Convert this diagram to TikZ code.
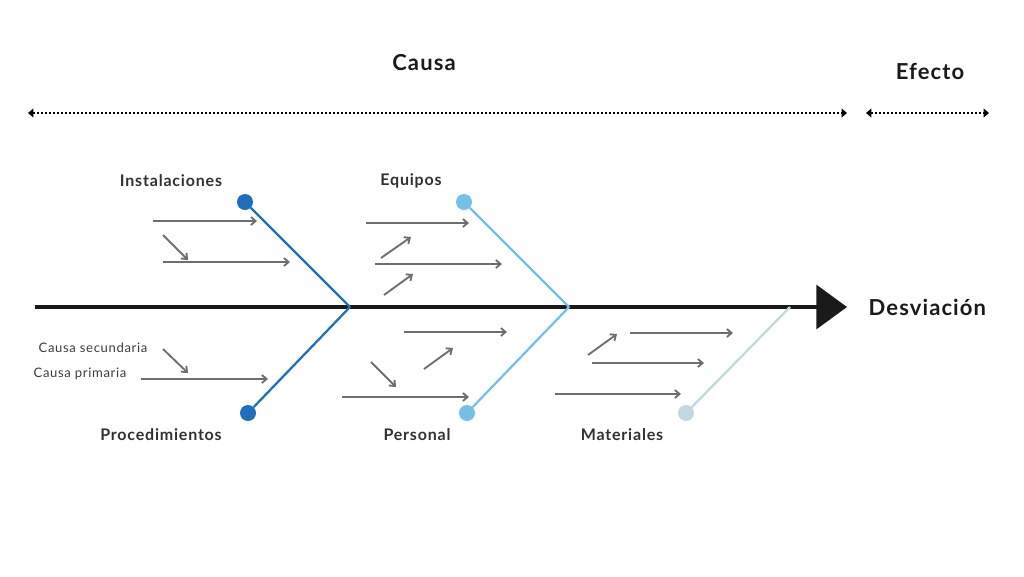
\documentclass[tikz,border=0pt]{standalone}
\usepackage{fontspec}
\setmainfont{Lato}[LetterSpace=5]
\usetikzlibrary{arrows.meta}
\definecolor{spinecol}{HTML}{1A1A1A}
\definecolor{darkblue}{HTML}{1F6FBA}
\definecolor{lightblue}{HTML}{74C0E8}
\definecolor{paleblue}{HTML}{C2D7DF}
\definecolor{causegray}{HTML}{6E6E6E}
\tikzset{
  bigtitle/.style={font=\bfseries\fontsize{16.5}{18}\selectfont, text=spinecol},
  bonelabel/.style={font=\bfseries\fontsize{12}{14}\selectfont, text=spinecol!90},
  smalllabel/.style={font=\fontsize{9.8}{11}\selectfont, text=spinecol!85},
  bonedot/.style={circle, fill, inner sep=0pt, minimum size=12pt},
  cause/.style={draw=causegray, line width=1.4pt, -{Straight Barb[length=3.5pt,width=6pt]}},
  span/.style={line width=2pt, dash pattern=on 1.5pt off 1.5pt, {Triangle[length=4pt,width=6.5pt]}-{Triangle[length=4pt,width=6.5pt]}}
}
\begin{document}
\begin{tikzpicture}[x=0.75pt,y=-0.75pt]
\useasboundingbox (0,0) rectangle (1024,576);
\node[bigtitle] (causa) at (424,63){Causa};
\node[bigtitle] (efecto) at (930,71){Efecto};
\coordinate (cl) at (28,113);
\coordinate (cr) at (847,113);
\coordinate (el) at (866,113);
\coordinate (er) at (989,113);
\draw[span] (cl) -- (cr);
\draw[span] (el) -- (er);
\coordinate (tail) at (35,307);
\coordinate (head) at (847,307);
\node[bigtitle, anchor=west] (desv) at (864,307){Desviación};
\draw[spinecol, line width=2.4pt, -{Triangle[length=23pt,width=33pt]}] (tail) -- (head);
\coordinate (j1) at (350,307);
\coordinate (j2) at (569,307);
\coordinate (j3) at (790,307);
\node[bonedot, darkblue] (inst) at (245,202){};
\node[bonedot, darkblue] (proc) at (248,413){};
\node[bonedot, lightblue] (equi) at (464,202){};
\node[bonedot, lightblue] (pers) at (467,413){};
\node[bonedot, paleblue] (mate) at (686,413){};
\draw[darkblue, line width=1.7pt] (inst) -- (j1);
\draw[darkblue, line width=1.7pt] (proc) -- (j1);
\draw[lightblue, line width=1.7pt] (equi) -- (j2);
\draw[lightblue, line width=1.7pt] (pers) -- (j2);
\draw[paleblue, line width=1.7pt] (mate) -- (j3);
\node[bonelabel] (linst) at (171,181){Instalaciones};
\node[bonelabel] (lequi) at (411,181){Equipos};
\node[bonelabel] (lproc) at (161,435){Procedimientos};
\node[bonelabel] (lpers) at (417,435){Personal};
\node[bonelabel] (lmate) at (622,435){Materiales};
\node[smalllabel] (lsec) at (93,348){Causa secundaria};
\node[smalllabel] (lpri) at (80,374){Causa primaria};
\foreach \n/\xa/\ya/\xb/\yb in {
  1/153/221/257/221, 2/163/235/188/260, 3/163/262/290/262,
  4/366/223/469/223, 5/381/258/411/237, 6/375/264/502/264, 7/384/295/413/274,
  8/163/349/188/373, 9/141/379/268/379,
  10/404/332/507/332, 11/424/369/453/348, 12/371/362/396/387, 13/342/397/469/397,
  14/588/355/617/334, 15/630/333/733/333, 16/592/363/704/363, 17/555/394/681/394}{
  \coordinate (s\n) at (\xa,\ya);
  \coordinate (t\n) at (\xb,\yb);
  \draw[cause] (s\n) -- (t\n);
}
\end{tikzpicture}
\end{document}
